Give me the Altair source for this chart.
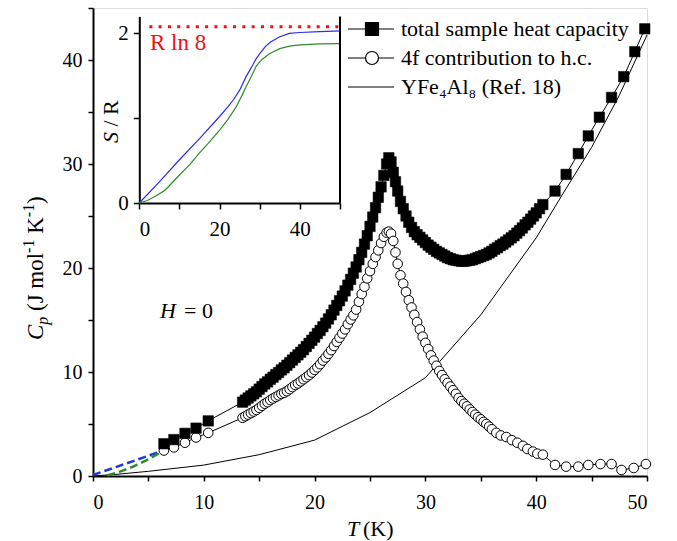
import altair as alt
import pandas as pd

# ---------------- data ----------------
# total sample heat capacity (filled squares), Cp in J/(mol K)
T_total = [6.4, 7.3, 8.3, 9.3, 10.4,
           13.5, 13.75, 14.0, 14.25, 14.5, 14.75, 15.0, 15.25, 15.5, 15.75, 16.0, 16.25, 16.5, 16.75,
           17.0, 17.25, 17.5, 17.75, 18.0, 18.25, 18.5, 18.75, 19.0, 19.25, 19.5, 19.75, 20.0, 20.25,
           20.5, 20.75, 21.0, 21.25, 21.5, 21.75, 22.0, 22.25, 22.5, 22.75, 23.0, 23.25, 23.5, 23.75,
           24.0, 24.25, 24.5, 24.75, 25.0, 25.25, 25.5, 25.75, 26.0, 26.25, 26.5,
           26.7, 26.9, 27.1, 27.3, 27.5, 27.75,
           28.0, 28.25, 28.5, 28.75, 29.0, 29.25, 29.5, 29.75, 30.0, 30.25, 30.5, 30.75, 31.0, 31.25,
           31.5, 31.75, 32.0, 32.25, 32.5, 32.75, 33.0, 33.25, 33.5, 33.75, 34.0, 34.25, 34.5, 34.75,
           35.0, 35.25, 35.5, 35.75, 36.0, 36.25, 36.5, 36.75, 37.0, 37.25, 37.5, 37.75, 38.0, 38.25,
           38.5, 38.75, 39.0, 39.25, 39.5, 39.75, 40.0, 40.3, 40.6,
           41.7, 42.7, 43.8, 44.7, 45.7, 46.8, 47.9, 48.9, 49.8]
C_total = [3.1, 3.5, 4.1, 4.6, 5.3,
           7.1, 7.3, 7.5, 7.7, 7.9, 8.1, 8.35, 8.6, 8.85, 9.05, 9.3, 9.5, 9.75, 9.95,
           10.2, 10.4, 10.65, 10.9, 11.15, 11.4, 11.65, 11.9, 12.15, 12.45, 12.75, 13.05, 13.35, 13.7,
           14.0, 14.35, 14.7, 15.1, 15.5, 15.95, 16.4, 16.85, 17.3, 17.8, 18.35, 18.9, 19.5, 20.1,
           20.8, 21.5, 22.3, 23.1, 24.0, 24.9, 25.8, 26.8, 27.8, 28.9, 30.0,
           30.6, 30.2, 29.2, 28.3, 27.4, 26.4,
           25.7, 25.0, 24.4, 23.9, 23.5, 23.2, 22.95, 22.7, 22.45, 22.2, 22.0, 21.8, 21.6, 21.45,
           21.3, 21.15, 21.0, 20.9, 20.8, 20.75, 20.7, 20.65, 20.65, 20.7, 20.75, 20.8, 20.9, 21.0,
           21.1, 21.2, 21.3, 21.45, 21.6, 21.8, 21.95, 22.15, 22.3, 22.5, 22.7, 22.9, 23.1, 23.35,
           23.6, 23.85, 24.15, 24.4, 24.7, 25.0, 25.3, 25.7, 26.1,
           27.4, 29.0, 31.0, 32.7, 34.5, 36.4, 38.4, 40.8, 43.0]

# 4f contribution (open circles)
T_4f = [6.4, 7.3, 8.3, 9.3, 10.4,
        13.5, 13.75, 14.0, 14.25, 14.5, 14.75, 15.0, 15.25, 15.5, 15.75, 16.0, 16.25, 16.5, 16.75,
        17.0, 17.25, 17.5, 17.75, 18.0, 18.25, 18.5, 18.75, 19.0, 19.25, 19.5, 19.75, 20.0, 20.25,
        20.5, 20.75, 21.0, 21.25, 21.5, 21.75, 22.0, 22.25, 22.5, 22.75, 23.0, 23.25, 23.5, 23.75,
        24.0, 24.25, 24.5, 24.75, 25.0, 25.25, 25.5, 25.75, 26.0, 26.25, 26.5,
        26.7, 26.9, 27.1, 27.3, 27.5, 27.75,
        28.0, 28.25, 28.5, 28.75, 29.0, 29.25, 29.5, 29.75, 30.0, 30.25, 30.5, 30.75, 31.0, 31.25,
        31.5, 31.75, 32.0, 32.25, 32.5, 32.75, 33.0, 33.25, 33.5, 33.75, 34.0, 34.25, 34.5, 34.75,
        35.0, 35.25, 35.5, 35.75, 36.0,
        36.4, 36.8, 37.3, 37.8, 38.3, 38.8, 39.2, 39.7, 40.1, 40.6,
        41.7, 42.7, 43.8, 44.7, 45.8, 46.8, 47.7, 48.8, 49.9]
C_4f = [2.45, 2.75, 3.2, 3.7, 4.15,
        5.6, 5.75, 5.9, 6.05, 6.2, 6.35, 6.55, 6.75, 6.95, 7.1, 7.3, 7.45, 7.6, 7.75,
        7.9, 8.0, 8.15, 8.35, 8.55, 8.75, 8.9, 9.1, 9.3, 9.5, 9.7, 9.95, 10.2, 10.45,
        10.75, 11.1, 11.4, 11.75, 12.1, 12.5, 12.9, 13.3, 13.7, 14.1, 14.6, 15.05, 15.45, 16.0,
        16.75, 17.5, 18.2, 19.0, 19.7, 20.4, 21.05, 21.7, 22.4, 23.0, 23.4,
        23.5, 23.3, 22.6, 21.5, 20.4, 19.3,
        18.5, 17.7, 16.9, 16.2, 15.5, 14.8, 14.1, 13.4, 12.8, 12.2, 11.6, 11.1, 10.6, 10.1,
        9.7, 9.3, 8.95, 8.6, 8.25, 7.9, 7.5, 7.2, 6.95, 6.7, 6.4, 6.15, 5.9, 5.65,
        5.45, 5.2, 5.0, 4.75, 4.5,
        4.15, 3.9, 3.75, 3.45, 3.2, 2.9, 2.6, 2.35, 2.15, 2.05,
        1.06, 0.9, 0.9, 1.06, 1.15, 1.15, 0.58, 0.77, 1.15]

# YFe4Al8 lattice reference (thin line)
T_yfe = [0, 2, 5, 10, 15, 20, 25, 30, 35, 40, 42.5, 45, 47.5, 50]
C_yfe = [0, 0.15, 0.45, 1.05, 2.05, 3.45, 6.1, 9.45, 15.5, 22.9, 27.3, 31.6, 36.6, 42.4]

# low-temperature extrapolations (dashed)
T_blue_dash = [0.0, 3.0, 6.2]
C_blue_dash = [0.1, 1.2, 2.4]
T_green_dash = [1.3, 2.5, 3.6, 4.8, 6.0]
C_green_dash = [0.05, 0.45, 0.9, 1.5, 2.2]

# inset: entropy S/R
T_S_blue = [0, 5, 10, 15, 20, 22, 23.5, 25, 26.6, 28.3, 29.1, 30.3, 31.5, 32.8, 35, 37.4, 40, 45, 50]
S_blue = [0, 0.25, 0.51, 0.76, 1.02, 1.13, 1.22, 1.33, 1.49, 1.63, 1.70, 1.78, 1.85, 1.90, 1.96, 2.0, 2.01, 2.02, 2.03]
T_S_green = [0, 2, 4, 6.4, 8, 10, 12.5, 15, 17.5, 20, 22, 24.1, 25.5, 26.6, 28, 29.1, 30.5, 32.4, 35, 37.4, 40, 45, 50]
S_green = [0, 0.03, 0.08, 0.15, 0.23, 0.33, 0.45, 0.59, 0.72, 0.86, 0.98, 1.13, 1.26, 1.37, 1.5, 1.61, 1.69, 1.76, 1.82, 1.85, 1.865, 1.875, 1.88]
T_rln8 = [2.5, 50]
S_rln8 = [2.079, 2.079]

series_names = ["total sample heat capacity", "4f contribution to h.c.", "YFe\u2084Al\u2088 (Ref. 18)"]

assert len(T_total) == len(C_total)
assert len(T_4f) == len(C_4f)

SERIF = "Liberation Serif"

df_total = pd.DataFrame({"T": T_total, "C": C_total})
df_4f = pd.DataFrame({"T": T_4f, "C": C_4f})
df_yfe = pd.DataFrame({"T": T_yfe, "C": C_yfe})
df_bd = pd.DataFrame({"T": T_blue_dash, "C": C_blue_dash})
df_gd = pd.DataFrame({"T": T_green_dash, "C": C_green_dash})
df_sb = pd.DataFrame({"T": T_S_blue, "S": S_blue})
df_sg = pd.DataFrame({"T": T_S_green, "S": S_green})
df_r = pd.DataFrame({"T": T_rln8, "S": S_rln8})
df_frame = pd.DataFrame({"T": [50], "S": [0], "S2": [2.2]})
df_leg = pd.DataFrame({"series": series_names})

# ---------------- main panel ----------------
ax_common = dict(domainColor="black", domainWidth=2, tickColor="black", tickWidth=1.5,
                 labelColor="black", labelFont=SERIF, grid=False, title=None)
x_main = alt.X("T:Q", scale=alt.Scale(domain=[0, 50], nice=False, zero=False),
               axis=alt.Axis(orient="bottom", values=list(range(0, 51, 5)),
                             labelExpr="datum.value % 10 == 0 ? datum.label : ''",
                             tickSize=5, labelPadding=11, labelFontSize=20, **ax_common))
y_main = alt.Y("C:Q", scale=alt.Scale(domain=[0, 45], nice=False, zero=False),
               axis=alt.Axis(orient="left", values=list(range(0, 46, 5)),
                             labelExpr="datum.value % 10 == 0 ? datum.label : ''",
                             tickSize=5, labelPadding=6, labelFontSize=20, **ax_common))

yfe_line = alt.Chart(df_yfe).mark_line(color="black", strokeWidth=1).encode(x=x_main, y=y_main)
tot_line = alt.Chart(df_total).mark_line(color="black", strokeWidth=1).encode(x=x_main, y=y_main)
f4_line = alt.Chart(df_4f).mark_line(color="black", strokeWidth=1).encode(x=x_main, y=y_main)
bd_line = alt.Chart(df_bd).mark_line(color="#1f3ad8", strokeWidth=2.5, strokeDash=[8, 4]).encode(x=x_main, y=y_main)
gd_line = alt.Chart(df_gd).mark_line(color="#2a8a2a", strokeWidth=2.5, strokeDash=[8, 4]).encode(x=x_main, y=y_main)
f4_pts = alt.Chart(df_4f).mark_point(shape="circle", filled=True, fill="white", stroke="black",
                                     strokeWidth=1, size=92, opacity=1).encode(x=x_main, y=y_main)
tot_pts = alt.Chart(df_total).mark_point(shape="square", filled=True, fill="black", stroke="black",
                                         strokeWidth=0.5, size=110, opacity=1).encode(x=x_main, y=y_main)

# legend (symbols drawn as line-marker-line paths)
path_sq = "M-3.7,0H-1M-1,-1H1V1H-1ZM1,0H3.4"
path_ci = "M-3.7,0H-1M-1,0A1,1,0,1,1,1,0A1,1,0,1,1,-1,0ZM1,0H3.4"
path_ln = "M-3.7,0H3.4"
leg = alt.Legend(orient="none", legendX=268, legendY=10, title=None, padding=0,
                 labelFont=SERIF, labelFontSize=22, labelColor="black", labelLimit=500,
                 labelOffset=18, rowPadding=7, symbolSize=169, symbolStrokeColor="black",
                 symbolStrokeWidth=1.2, symbolOpacity=1)
legend_layer = alt.Chart(df_leg).mark_point(filled=False, color="black",
                                            strokeWidth=1.2, opacity=1).encode(
    shape=alt.Shape("series:N", scale=alt.Scale(domain=series_names, range=[path_sq, path_ci, path_ln]), legend=leg),
    fill=alt.Fill("series:N", scale=alt.Scale(domain=series_names, range=["black", "white", "white"]), legend=leg),
    stroke=alt.Stroke("series:N", scale=alt.Scale(domain=series_names, range=["black", "black", "black"]), legend=leg),
).transform_filter("false")

one = pd.DataFrame({"a": [0]})


def txt(s, x, y, size=22, style="normal", angle=0, color="black"):
    kw = dict(text=s, font=SERIF, fontSize=size, fontStyle=style, align="left",
              baseline="alphabetic", color=color)
    if angle:
        kw["angle"] = angle
    return alt.Chart(one).mark_text(**kw).encode(x=alt.value(x), y=alt.value(y))


texts = [
    # x-axis title  T (K)
    txt("T", 254, 528, style="italic"),
    txt("(K)", 270, 528),
    # y-axis title  C_p (J mol^-1 K^-1), rotated (pieces, read bottom to top)
    txt("C", -50, 332, size=23, style="italic", angle=270),
    txt("p", -45, 316.7, size=16, style="italic", angle=270),
    txt("(J mol", -50, 303.0, size=23, angle=270),
    txt("-1", -59.5, 244.9, size=16, angle=270),
    txt("K", -50, 225.8, size=23, angle=270),
    txt("-1", -59.5, 209.2, size=16, angle=270),
    txt(")", -50, 195.9, size=23, angle=270),
    # H = 0
    txt("H", 67, 310, style="italic"),
    txt("= 0", 91, 310),
    # inset texts
    txt("R ln 8", 57, 42, size=23, color="#ee1111"),
    txt("S", 25, 135, style="italic", angle=270),
    txt("/", 25, 118.5, angle=270),
    txt("R", 25, 106.9, angle=270),
]

main = alt.layer(yfe_line, tot_line, f4_line, bd_line, gd_line, f4_pts, tot_pts, legend_layer, *texts)

# ---------------- inset ----------------
x_in = alt.X("T:Q", scale=alt.Scale(domain=[0, 50], range=[46.3, 247], nice=False, zero=False),
             axis=alt.Axis(orient="bottom", offset=-273, values=[0, 10, 20, 30, 40, 50],
                           labelExpr="datum.value % 20 == 0 ? datum.label : ''",
                           tickSize=6, labelPadding=9, labelFontSize=21, **ax_common))
y_in = alt.Y("S:Q", scale=alt.Scale(domain=[0, 2.2], range=[195, 8.4], nice=False, zero=False),
             axis=alt.Axis(orient="left", offset=-46.3, values=[0, 1, 2],
                           labelExpr="datum.value == 1 ? '' : datum.label",
                           tickSize=6, labelPadding=5, labelFontSize=21, **ax_common))

s_blue = alt.Chart(df_sb).mark_line(color="#2b2bf0", strokeWidth=1.2).encode(x=x_in, y=y_in)
s_green = alt.Chart(df_sg).mark_line(color="#2e8b2e", strokeWidth=1.2).encode(x=x_in, y=y_in)
s_red = alt.Chart(df_r).mark_line(color="#ee1111", strokeWidth=3, strokeDash=[3, 6.3]).encode(x=x_in, y=y_in)
frame = alt.Chart(df_frame).mark_rule(color="black", strokeWidth=2).encode(x=x_in, y=y_in, y2="S2:Q")

inset = alt.layer(s_blue, s_green, s_red, frame)

chart = alt.layer(main, inset).resolve_scale(x="independent", y="independent").properties(
    width=554, height=468,
    padding={"left": 93, "top": 8, "right": 30, "bottom": 65},
    autosize=alt.AutoSizeParams(type="none"),
).configure_view(stroke=None).configure(background="white")

chart.save("out.html", embed_options={"renderer": "svg", "actions": False})
